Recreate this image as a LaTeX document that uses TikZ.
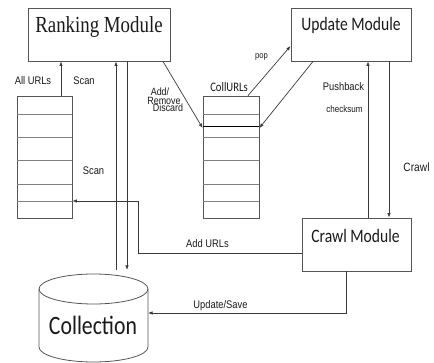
\documentclass[tikz,border=0pt]{standalone}
\usepackage{fontspec}
\usetikzlibrary{arrows.meta}
\newfontfamily\rankfont{Liberation Serif}[FakeStretch=0.82]
\newfontfamily\calfont{Carlito}[FakeStretch=0.82]
\newfontfamily\lblfont{Liberation Sans}[FakeStretch=0.85]
\definecolor{edge}{HTML}{555555}
\definecolor{wire}{HTML}{3A3A3A}
\definecolor{txt}{HTML}{1A1A1A}
\tikzset{
  box/.style={draw=edge, line width=0.9pt, rectangle, inner sep=0pt},
  stackbox/.style={draw=edge, line width=0.8pt, rectangle, inner sep=0pt},
  row/.style={draw=gray, line width=0.8pt},
  arr/.style={draw=wire, line width=0.7pt, -{Latex[length=4.5pt,width=3.5pt]}},
  wireline/.style={draw=wire, line width=0.7pt},
  lbl/.style={inner sep=0pt, text=txt, font=\lblfont\fontsize{11}{12}\selectfont},
}
\begin{document}
\begin{tikzpicture}[x=1pt,y=-1pt]
\useasboundingbox (0,0) rectangle (434,363);
% modules
\node[box, minimum width=142pt, minimum height=53pt] (rank) at (99,34.5) {};
\node[inner sep=0pt, text=txt, font=\rankfont\fontsize{23}{25}\selectfont] (rankT) at (99,27) {Ranking Module};
\node[box, minimum width=120pt, minimum height=53pt] (upd) at (351,34.5) {};
\node[inner sep=0pt, text=txt, font=\calfont\fontsize{19}{21}\selectfont] (updT) at (351,25) {Update Module};
\node[box, minimum width=109pt, minimum height=53pt] (crawl) at (356.5,244.5) {};
\node[inner sep=0pt, text=txt, font=\calfont\fontsize{19}{21}\selectfont] (crawlT) at (355.5,236) {Crawl Module};
% stacks
\node[stackbox, minimum width=55pt, minimum height=122pt] (ls) at (44.5,157) {};
\foreach \yy in {114,137,160,184,201} {\draw[row] (ls.west |- 0,\yy) -- (ls.east |- 0,\yy);}
\node[stackbox, minimum width=56pt, minimum height=122pt] (ms) at (231,157) {};
\foreach \yy in {114,137,160,184,201} {\draw[row] (ms.west |- 0,\yy) -- (ms.east |- 0,\yy);}
\draw[draw=black, line width=0.8pt] (ms.west |- 0,126) -- (ms.east |- 0,126);
% collection cylinder
\draw[edge, line width=0.8pt] (93.5,289) ellipse [x radius=54.5, y radius=15];
\draw[edge, line width=0.8pt] (39,289) -- (39,347) arc[start angle=180, end angle=360, x radius=54.5, y radius=-15] -- (148,289);
\coordinate (collTopL) at (116,270);
\coordinate (collTopR) at (127,270);
\coordinate (collR) at (148,313);
\node[inner sep=0pt, text=txt, font=\calfont\fontsize{26.5}{28}\selectfont] (coll) at (93,325) {Collection};
% connectors
\draw[arr] ([xshift=16.5pt]ls.north) -- ([xshift=16.5pt]ls.north |- rank.south);
\draw[arr] (collTopL) -- (collTopL |- rank.south);
\draw[arr] (collTopR |- rank.south) -- (collTopR);
\draw[arr] ([xshift=64pt]rank.south) -- ([yshift=29pt]ms.west);
\draw[arr] ([xshift=17pt]ms.north) -- ([yshift=-11.5pt]upd.west);
\draw[arr] ([xshift=-38pt]upd.south) -- ([yshift=29pt]ms.east);
\draw[arr] ([xshift=11.5pt]crawl.north) -- ([xshift=11.5pt]crawl.north |- upd.south);
\draw[arr] ([xshift=38pt]upd.south) -- ([xshift=38pt]upd.south |- crawl.north);
\draw[arr] ([yshift=-8.5pt]crawl.west) -- (138,253) -- (138,201) -- (ls.east |- 0,201);
\draw[arr] ([xshift=-10.5pt]crawl.south) -- ([xshift=-10.5pt]crawl.south |- collR) -- (collR);
% labels
\node[lbl] (l1) at (33,81) {All URLs};
\node[lbl] (l2) at (84,81) {Scan};
\node[lbl, font=\lblfont\fontsize{10.5}{12}\selectfont] (l3) at (160,92) {Add/};
\node[lbl, font=\lblfont\fontsize{10.5}{12}\selectfont] (l4) at (164,101) {Remove};
\node[lbl, font=\lblfont\fontsize{10.5}{12}\selectfont] (l5) at (168,108) {Discard};
\node[inner sep=0pt, text=txt, font=\calfont\fontsize{13}{14}\selectfont] (l6) at (229,87) {CollURLs};
\node[lbl, font=\lblfont\fontsize{9}{10}\selectfont] (l7) at (261.5,57) {pop};
\node[lbl] (l8) at (343.5,87) {Pushback};
\node[lbl, font=\lblfont\fontsize{9.5}{10}\selectfont] (l9) at (344.5,109) {checksum};
\node[lbl, font=\lblfont\fontsize{12}{13}\selectfont] (l10) at (416.5,167) {Crawl};
\node[lbl] (l11) at (93.5,171) {Scan};
\node[lbl] (l12) at (207.5,244) {Add URLs};
\node[lbl] (l13) at (220.5,306) {Update/Save};
\end{tikzpicture}
\end{document}
